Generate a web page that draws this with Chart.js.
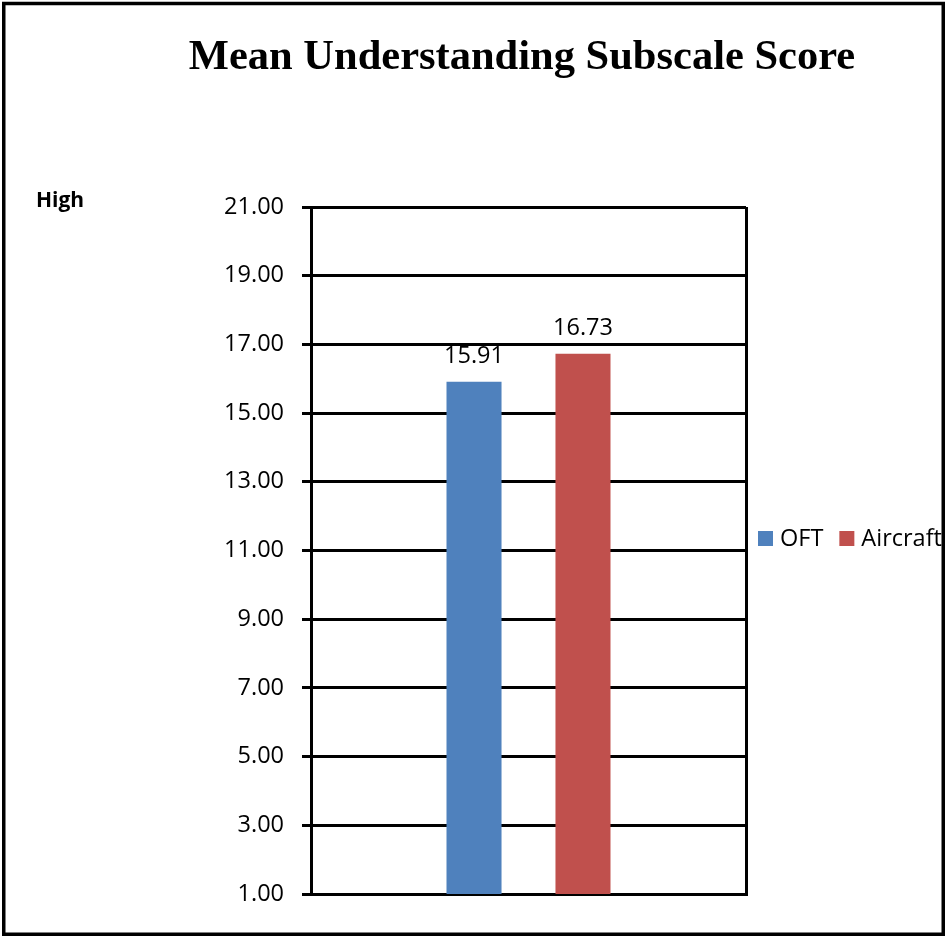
<!DOCTYPE html>
<html>
<head>
<meta charset="utf-8">
<script src="https://cdn.jsdelivr.net/npm/chart.js@4"></script>
<style>
html,body{margin:0;padding:0;background:#fff;}
#wrap{position:relative;width:945px;height:936px;}
canvas{display:block;}
</style>
</head>
<body>
<div id="wrap"><canvas id="c" width="945" height="936"></canvas></div>
<script>
const chartTitle = 'Mean Understanding Subscale Score';
const sideNote = 'High';
const categories = [''];
const seriesNames = ['OFT', 'Aircraft'];
const oftValues = [15.91];
const aircraftValues = [16.73];
const seriesColors = ['#4F81BD', '#C0504D'];
const yMin = 1, yMax = 21, yStep = 2;

const sansFont = '"Open Sans", "Liberation Sans", sans-serif';

const framePlugin = {
  id: 'frame',
  beforeDraw(chart) {
    const ctx = chart.ctx;
    ctx.save();
    ctx.fillStyle = '#fff';
    ctx.fillRect(0, 0, chart.width, chart.height);
    ctx.strokeStyle = '#000';
    ctx.lineWidth = 3.5;
    ctx.strokeRect(3.75, 3.5, chart.width - 5.5, chart.height - 5.25);
    ctx.restore();
  },
  afterDraw(chart) {
    const ctx = chart.ctx;
    ctx.save();
    // title
    ctx.fillStyle = '#000';
    ctx.font = 'bold 42.5px "Liberation Serif", "Times New Roman", serif';
    ctx.textAlign = 'center';
    ctx.textBaseline = 'alphabetic';
    ctx.fillText(chartTitle, 522, 69);
    // side note
    ctx.font = 'bold 21px ' + sansFont;
    ctx.textAlign = 'left';
    ctx.fillText(sideNote, 36, 207);
    // value labels
    ctx.font = '23.5px ' + sansFont;
    ctx.textAlign = 'center';
    chart.data.datasets.forEach((ds, i) => {
      const meta = chart.getDatasetMeta(i);
      meta.data.forEach((bar, j) => {
        ctx.fillText(ds.data[j].toFixed(2), bar.x, bar.y - 19);
      });
    });
    // legend
    let x = 758;
    const yMid = 538;
    ctx.textAlign = 'left';
    ctx.textBaseline = 'middle';
    chart.data.datasets.forEach((ds) => {
      ctx.fillStyle = ds.backgroundColor;
      ctx.fillRect(x, yMid - 7, 15, 15);
      x += 22;
      ctx.fillStyle = '#000';
      ctx.fillText(ds.label, x, yMid + 1);
      x += ctx.measureText(ds.label).width + 16;
    });
    ctx.restore();
  }
};

new Chart(document.getElementById('c'), {
  type: 'bar',
  data: {
    labels: categories,
    datasets: [
      { label: seriesNames[0], data: oftValues, backgroundColor: seriesColors[0] },
      { label: seriesNames[1], data: aircraftValues, backgroundColor: seriesColors[1] }
    ]
  },
  options: {
    responsive: false,
    animation: false,
    devicePixelRatio: 1,
    categoryPercentage: 0.501,
    barPercentage: 0.505,
    layout: { padding: { left: 0, right: 199, top: 207, bottom: 42 } },
    plugins: { legend: { display: false }, title: { display: false }, tooltip: { enabled: false } },
    scales: {
      x: {
        ticks: { display: false },
        grid: { display: true, offset: true, color: '#000', lineWidth: 3, drawTicks: false },
        border: { display: true, color: '#000', width: 3 },
        afterFit(scale) { scale.height = 0; }
      },
      y: {
        min: yMin, max: yMax,
        ticks: {
          stepSize: yStep,
          color: '#000',
          font: { family: sansFont, size: 23.5 },
          padding: 18,
          callback: (v) => Number(v).toFixed(2)
        },
        grid: { color: '#000', lineWidth: 3, tickLength: 9, drawTicks: true },
        border: { display: true, color: '#000', width: 3 },
        afterFit(scale) { scale.width = 311; }
      }
    }
  },
  plugins: [framePlugin]
});
</script>
</body>
</html>
